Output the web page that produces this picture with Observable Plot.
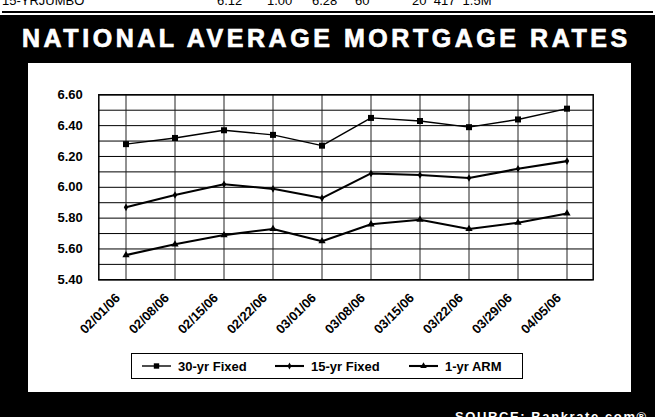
<!DOCTYPE html>
<html>
<head>
<meta charset="utf-8">
<script src="https://cdn.jsdelivr.net/npm/d3@7"></script>
<script src="https://cdn.jsdelivr.net/npm/@observablehq/plot@0.6"></script>
<style>
  html, body { margin: 0; padding: 0; }
  body { width: 655px; height: 417px; overflow: hidden; position: relative; background: #fff; font-family: "Liberation Sans", Arial, Helvetica, sans-serif; }
  .abs { position: absolute; white-space: nowrap; }
  #topline span { position: absolute; font-size: 13px; line-height: 13px; color: #000; }
  #rule { left: 2px; top: 11px; width: 651px; height: 2px; background: #000; }
  #black { left: 0; top: 15px; width: 655px; height: 402px; background: #000; }
  #title { left: 22px; top: 26px; color: #fff; font-weight: bold; font-size: 25px; line-height: 25px; letter-spacing: 3.55px; -webkit-text-stroke: 0.7px #fff; }
  #panel { left: 28px; top: 63px; width: 603px; height: 329px; background: #fff; }
  #legend { left: 103px; top: 290px; width: 390px; height: 24px; border: 1.5px solid #000; background: #fff; }
  #legend .item { position: absolute; top: 0; height: 24px; display: flex; align-items: center; font-weight: bold; font-size: 13px; color: #000; }
  #legend svg { margin-right: 7px; }
  #source { left: 455px; top: 410px; color: #fff; font-weight: bold; font-size: 13px; line-height: 13px; letter-spacing: 1.6px; }
</style>
</head>
<body>
<div id="topline">
  <span style="left:2px;top:-6px">15-YRJUMBO</span>
  <span style="left:217px;top:-6px">6.12</span>
  <span style="left:267px;top:-6px">1.00</span>
  <span style="left:312px;top:-6px">6.28</span>
  <span style="left:355px;top:-6px">60</span>
  <span style="left:412px;top:-6px">20&nbsp;&nbsp;417&nbsp;&nbsp;1.5M</span>
</div>
<div id="rule" class="abs"></div>
<div id="black" class="abs"></div>
<div id="title" class="abs">NATIONAL AVERAGE MORTGAGE RATES</div>
<div id="panel" class="abs">
  <div id="chart"></div>
  <div id="legend" class="abs"></div>
</div>
<div id="source" class="abs">SOURCE: Bankrate.com®</div>
<script>
const dates = ["02/01/06","02/08/06","02/15/06","02/22/06","03/01/06","03/08/06","03/15/06","03/22/06","03/29/06","04/05/06"];
const fixed30 = [6.28, 6.32, 6.37, 6.34, 6.27, 6.45, 6.43, 6.39, 6.44, 6.51];
const fixed15 = [5.87, 5.95, 6.02, 5.99, 5.93, 6.09, 6.08, 6.06, 6.12, 6.17];
const arm1 = [5.56, 5.63, 5.69, 5.73, 5.65, 5.76, 5.79, 5.73, 5.77, 5.83];
const seriesNames = ["30-yr Fixed", "15-yr Fixed", "1-yr ARM"];
const yTicks = [5.4, 5.6, 5.8, 6.0, 6.2, 6.4, 6.6];
const yGrid = [5.4, 5.5, 5.6, 5.7, 5.8, 5.9, 6.0, 6.1, 6.2, 6.3, 6.4, 6.5, 6.6];

const seriesValues = [fixed30, fixed15, arm1];
const symbols = ["square", "diamond", "triangle"];
const radii = [3.4, 2.3, 2.7];
const widths = [1.4, 2.1, 2.1];

const rows = (vals) => dates.map((d, i) => ({date: d, value: vals[i]}));

const marks = [
  Plot.gridY(yGrid, {stroke: "#000", strokeOpacity: 1, strokeWidth: 1}),
  Plot.gridX(dates, {stroke: "#222", strokeOpacity: 1, strokeWidth: 1}),
  Plot.frame({stroke: "#000", strokeWidth: 1.5}),
  Plot.axisY(yTicks, {tickFormat: d3.format(".2f"), tickSize: 4.5, tickPadding: 11.5, fontWeight: "bold", fontSize: 13, fill: "#000", stroke: null, label: null}),
  Plot.axisX({tickSize: 0, tickRotate: -45, tickPadding: 6, fontWeight: "bold", fontSize: 13, fill: "#000", label: null, dx: -8, dy: 10})
];
seriesValues.forEach((vals, k) => {
  marks.push(Plot.line(rows(vals), {x: "date", y: "value", stroke: "#000", strokeWidth: widths[k]}));
  marks.push(Plot.dot(rows(vals), {x: "date", y: "value", symbol: () => symbols[k], fill: "#000", stroke: "none", r: radii[k]}));
});

const chart = Plot.plot({
  width: 603,
  height: 290,
  marginLeft: 70.3,
  marginRight: 38.3,
  marginTop: 31.3,
  marginBottom: 73.7,
  style: {background: "transparent", fontFamily: "Liberation Sans, Arial, sans-serif", overflow: "visible"},
  x: {type: "band", domain: dates, padding: 0, axis: null},
  y: {domain: [5.4, 6.6], axis: null},
  symbol: {type: "ordinal", domain: symbols, range: symbols},
  marks
});
document.getElementById("chart").appendChild(chart);

// legend
const legend = document.getElementById("legend");
const lefts = [10, 143, 277];
seriesNames.forEach((name, k) => {
  const item = document.createElement("div");
  item.className = "item";
  item.style.left = lefts[k] + "px";
  const sw = d3.create("svg").attr("width", 29).attr("height", 10);
  sw.append("line").attr("x1", 0).attr("x2", 29).attr("y1", 5).attr("y2", 5).attr("stroke", "#000").attr("stroke-width", widths[k]);
  const symType = [d3.symbolSquare, d3.symbolDiamond, d3.symbolTriangle][k];
  sw.append("path").attr("transform", "translate(14.5,5)").attr("d", d3.symbol(symType, Math.PI * radii[k] * radii[k] * 0.8)()).attr("fill", "#000");
  item.appendChild(sw.node());
  const t = document.createElement("span");
  t.textContent = name;
  item.appendChild(t);
  legend.appendChild(item);
});
</script>
</body>
</html>
